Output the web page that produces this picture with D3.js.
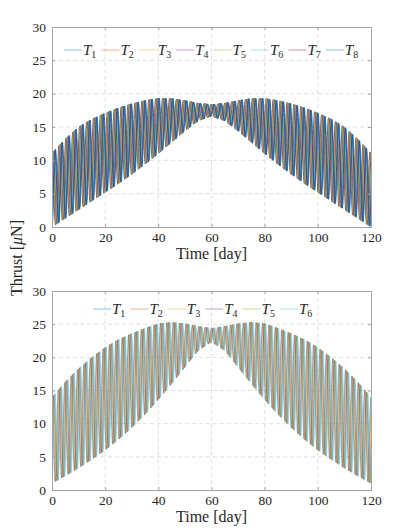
<!DOCTYPE html>
<html lang="en">
<head>
  <meta charset="UTF-8">
  <title>Thrust profiles</title>
  <script src="https://d3js.org/d3.v7.min.js"></script>
  <style>
    body { margin: 0; background: #fff; }
    svg text { font-family: "Liberation Serif", "DejaVu Serif", serif; fill: #262626; }
    .grid line { stroke: #d9d9d9; stroke-dasharray: 4,3; stroke-width: 0.8; }
  </style>
</head>
<body>
<svg width="399" height="532"></svg>

<script>
  // envelope samples (days, upper / lower thrust in uN)
  const days = [0, 5, 10, 15, 20, 25, 30, 35, 40, 45, 50, 55, 60, 65, 70, 75, 80, 85, 90, 95, 100, 105, 110, 115, 120];
  const topUpper = [11.1, 13.2, 15.0, 16.2, 17.1, 17.9, 18.5, 19.0, 19.3, 19.3, 19.0, 18.6, 18.4, 18.6, 19.0, 19.3, 19.3, 19.0, 18.5, 17.9, 17.1, 16.2, 15.0, 13.2, 11.1];
  const topLower = [0.0, 1.3, 2.6, 3.9, 5.2, 6.5, 7.9, 9.4, 11.0, 12.7, 14.4, 15.9, 16.6, 15.9, 14.4, 12.7, 11.0, 9.4, 7.9, 6.5, 5.2, 3.9, 2.6, 1.3, 0.0];
  const botUpper = [14.0, 16.3, 18.3, 20.0, 21.5, 22.7, 23.6, 24.4, 25.1, 25.3, 25.1, 24.7, 24.4, 24.7, 25.1, 25.3, 25.1, 24.4, 23.6, 22.7, 21.5, 20.0, 18.3, 16.3, 14.0];
  const botLower = [1.0, 2.1, 3.3, 4.6, 6.0, 7.6, 9.4, 11.4, 13.6, 16.0, 18.5, 21.0, 22.3, 21.0, 18.5, 16.0, 13.6, 11.4, 9.4, 7.6, 6.0, 4.6, 3.3, 2.1, 1.0];

  // oscillation period (days) and phase lag of each thruster (days)
  const topPeriod = 2.6;
  const botPeriod = 2.4;
  const topNames = ["1", "2", "3", "4", "5", "6", "7", "8"];
  const topLags = [0.0, 0.19, 0.38, 0.57, 0.76, 0.95, 1.14, 1.33];
  const botNames = ["1", "2", "3", "4", "5", "6"];
  const botLags = [0.0, 0.24, 0.48, 0.72, 0.96, 1.20];

  const topColors = ["#0072BD", "#D95319", "#EDB120", "#7E2F8E", "#77AC30", "#4DBEEE", "#A2142F", "#0072BD"];
  const botColors = ["#0072BD", "#D95319", "#EDB120", "#7E2F8E", "#77AC30", "#4DBEEE"];

  const xTicks = [0, 20, 40, 60, 80, 100, 120];
  const yTicks = [0, 5, 10, 15, 20, 25, 30];

  const svg = d3.select("svg");
  const serif = "Liberation Serif, DejaVu Serif, serif";

  function panel(opt) {
    const x = d3.scaleLinear().domain([0, 120]).range([opt.left, opt.right]);
    const y = d3.scaleLinear().domain([0, 30]).range([opt.bottom, opt.top]);
    const upper = d3.scaleLinear().domain(days).range(opt.upper).clamp(true);
    const lower = d3.scaleLinear().domain(days).range(opt.lower).clamp(true);
    const g = svg.append("g");

    // grid
    g.append("g").attr("class", "grid")
      .selectAll("line.v").data(xTicks.slice(1, -1)).join("line")
      .attr("x1", d => x(d)).attr("x2", d => x(d))
      .attr("y1", opt.top).attr("y2", opt.bottom);
    g.append("g").attr("class", "grid")
      .selectAll("line.h").data(yTicks.slice(1, -1)).join("line")
      .attr("x1", opt.left).attr("x2", opt.right)
      .attr("y1", d => y(d)).attr("y2", d => y(d));

    // series
    const clipId = "clip" + opt.id;
    svg.append("clipPath").attr("id", clipId).append("rect")
      .attr("x", opt.left).attr("y", opt.top)
      .attr("width", opt.right - opt.left).attr("height", opt.bottom - opt.top);

    const line = d3.line().x(d => x(d[0])).y(d => y(d[1])).curve(d3.curveMonotoneX);
    const series = opt.lags.map(lag => {
      const pts = [];
      for (let t = lag - opt.period; t <= 120 + opt.period; t += opt.period) {
        pts.push([t, upper(t)]);
        pts.push([t + opt.period / 2, lower(t + opt.period / 2)]);
      }
      return pts;
    });
    g.append("g").attr("clip-path", `url(#${clipId})`)
      .selectAll("path").data(series).join("path")
      .attr("d", line)
      .attr("fill", "none")
      .attr("stroke", (d, i) => opt.colors[i])
      .attr("stroke-opacity", opt.alpha)
      .attr("stroke-width", opt.width);

    // axes
    g.append("g").attr("transform", `translate(0,${opt.bottom})`)
      .call(d3.axisBottom(x).tickValues(xTicks).tickSize(-3).tickPadding(5));
    g.append("g").attr("transform", `translate(${opt.left},0)`)
      .call(d3.axisLeft(y).tickValues(yTicks).tickSize(-3).tickPadding(6));
    g.append("g").attr("transform", `translate(0,${opt.top})`)
      .call(d3.axisTop(x).tickValues(xTicks).tickSize(-3).tickFormat(""));
    g.append("g").attr("transform", `translate(${opt.right},0)`)
      .call(d3.axisRight(y).tickValues(yTicks).tickSize(-3).tickFormat(""));
    g.selectAll(".domain").attr("stroke", "#a6a6a6");
    g.selectAll(".tick line").attr("stroke", "#a6a6a6");
    g.selectAll(".tick text").attr("font-family", serif).style("font-size", "13.5px").attr("fill", "#262626");

    g.append("text")
      .attr("x", (opt.left + opt.right) / 2).attr("y", opt.bottom + 32)
      .attr("text-anchor", "middle").style("font-size", "16px")
      .text("Time [day]");

    // legend
    const leg = g.append("g").selectAll("g").data(opt.names).join("g")
      .attr("transform", (d, i) => `translate(${opt.legX + i * 37.4},${opt.legY})`);
    leg.append("line").attr("x1", 0).attr("x2", 18)
      .attr("stroke", (d, i) => opt.colors[i]).attr("stroke-opacity", 0.45).attr("stroke-width", 1);
    const lt = leg.append("text").attr("x", 19).attr("y", 5).style("font-size", "15px");
    lt.append("tspan").style("font-style", "italic").text("T");
    lt.append("tspan").attr("dy", 3).style("font-size", "10px").text(d => d);
  }

  panel({ id: 1, left: 52, right: 371, top: 27, bottom: 227, upper: topUpper, lower: topLower,
          period: topPeriod, lags: topLags, names: topNames, colors: topColors, width: 0.9, alpha: 1,
          legX: 64, legY: 50 });
  panel({ id: 2, left: 52, right: 371, top: 291, bottom: 490, upper: botUpper, lower: botLower,
          period: botPeriod, lags: botLags, names: botNames, colors: botColors, width: 0.8, alpha: 0.65,
          legX: 93, legY: 309 });

  // shared y label
  const yl = svg.append("text")
    .attr("transform", "translate(22,258) rotate(-90)")
    .attr("text-anchor", "middle").style("font-size", "16px");
  yl.append("tspan").text("Thrust [");
  yl.append("tspan").style("font-style", "italic").text("μ");
  yl.append("tspan").text("N]");
</script>
</body>
</html>
